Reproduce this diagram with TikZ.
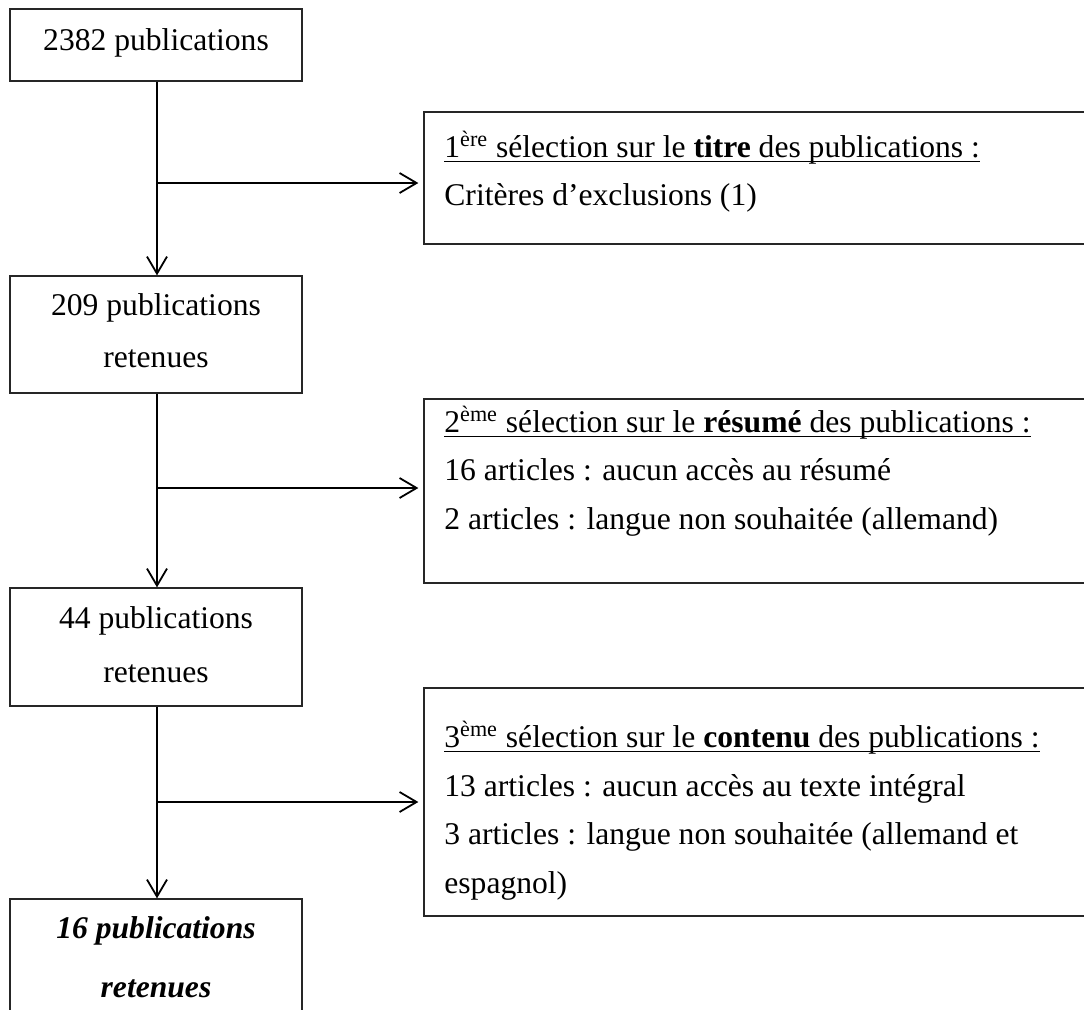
\documentclass[tikz,border=0pt]{standalone}
\usepackage{fontspec}
\setmainfont{Liberation Serif}
\usetikzlibrary{arrows.meta}
\tikzset{
  box/.style={draw=black!85, line width=0.65pt, inner sep=0pt},
  txt/.style={inner sep=0pt, font=\fontsize{15.8}{19}\selectfont},
  arr/.style={line width=0.9pt, -{Straight Barb[length=8.5pt,width=10pt,line width=0.9pt]}},
  uline/.style={line width=0.8pt}
}
\begin{document}
\begin{tikzpicture}[x=0.5pt,y=-0.5pt]
\clip (0,0) rectangle (1084,1009);
% left boxes
\node[box, minimum width=146pt, minimum height=36pt] (b1) at (156,45) {};
\node[box, minimum width=146pt, minimum height=58.5pt] (b2) at (156,334.5) {};
\node[box, minimum width=146pt, minimum height=59pt] (b3) at (156,647) {};
\node[box, minimum width=146pt, minimum height=60.5pt] (b4) at (156,959.5) {};
% right boxes
\node[box, minimum width=333pt, minimum height=66pt] (rA) at (757,178) {};
\node[box, minimum width=333pt, minimum height=92pt] (rB) at (757,491) {};
\node[box, minimum width=333pt, minimum height=114pt] (rC) at (757,802) {};
% left texts
\node[txt, anchor=base] (t1) at (156,50) {2382 publications};
\node[txt, anchor=base] (t2a) at (156,315) {209 publications};
\node[txt, anchor=base] (t2b) at (156,367) {retenues};
\node[txt, anchor=base] (t3a) at (156,628) {44 publications};
\node[txt, anchor=base] (t3b) at (156,682) {retenues};
\node[txt, anchor=base] (t4a) at (156,938) {\textbf{\textit{16 publications}}};
\node[txt, anchor=base] (t4b) at (156,997) {\textbf{\textit{retenues}}};
% right texts
\node[txt, anchor=base west] (a1) at (444,157) {1\textsuperscript{ère} sélection sur le \textbf{titre} des publications :};
\node[txt, anchor=base west] (a2) at (444,205) {Critères d’exclusions (1)};
\node[txt, anchor=base west] (c1) at (444,432) {2\textsuperscript{ème} sélection sur le \textbf{résumé} des publications :};
\node[txt, anchor=base west] (c2) at (444,480) {16 articles : aucun accès au résumé};
\node[txt, anchor=base west] (c3) at (444,529) {2 articles : langue non souhaitée (allemand)};
\node[txt, anchor=base west] (d1) at (444,747) {3\textsuperscript{ème} sélection sur le \textbf{contenu} des publications :};
\node[txt, anchor=base west] (d2) at (444,796) {13 articles : aucun accès au texte intégral};
\node[txt, anchor=base west] (d3) at (444,844) {3 articles : langue non souhaitée (allemand et};
\node[txt, anchor=base west] (d4) at (444,893) {espagnol)};
% underlines
\draw[uline] ([yshift=-2.2pt]a1.base west) -- ([yshift=-2.2pt]a1.base east);
\draw[uline] ([yshift=-2.2pt]c1.base west) -- ([yshift=-2.2pt]c1.base east);
\draw[uline] ([yshift=-2.2pt]d1.base west) -- ([yshift=-2.2pt]d1.base east);
% junctions
\coordinate (j1) at (157,183);
\coordinate (j2) at (157,488);
\coordinate (j3) at (157,802);
% connectors
\draw[arr] (b1.south -| j1) -- (b2.north -| j1);
\draw[arr] (b2.south -| j2) -- (b3.north -| j2);
\draw[arr] (b3.south -| j3) -- (b4.north -| j3);
\draw[arr, shorten >=2.5pt] (j1) -- (j1 -| rA.west);
\draw[arr, shorten >=2.5pt] (j2) -- (j2 -| rB.west);
\draw[arr, shorten >=2.5pt] (j3) -- (j3 -| rC.west);
\end{tikzpicture}
\end{document}
